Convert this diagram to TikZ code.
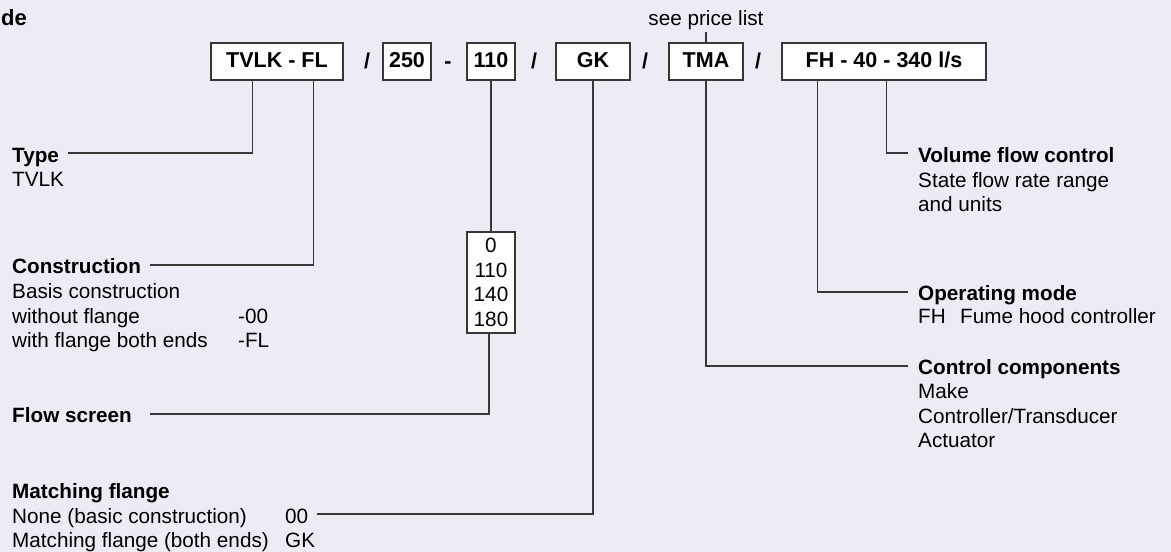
\documentclass[tikz,border=0pt]{standalone}
\usepackage{fontspec}
\setmainfont{Liberation Sans}
\definecolor{bg}{RGB}{237,236,245}
\definecolor{ln}{RGB}{55,55,55}
\tikzset{
  fs/.style={font=\fontsize{20.7pt}{24.5pt}\selectfont},
  txt/.style={fs, inner sep=0pt, anchor=base west},
  btxt/.style={txt, font=\fontsize{20.7pt}{24.5pt}\selectfont\bfseries},
  ctxt/.style={fs, inner sep=0pt, anchor=base},
  sep/.style={ctxt, font=\fontsize{21.5pt}{24.5pt}\selectfont\bfseries},
  codebox/.style={draw=ln, line width=1.2pt, fill=white, inner sep=0pt,
    minimum height=37pt, text height=15.5pt, text depth=3pt,
    font=\fontsize{21.5pt}{24.5pt}\selectfont\bfseries},
  conn/.style={draw=ln, line width=1.2pt}
}
\begin{document}
\begin{tikzpicture}[x=1pt,y=-1pt]
\useasboundingbox (0,0) rectangle (1171,552);
\fill[bg] (0,0) rectangle (1171,552);

% top code boxes
\node[codebox, minimum width=132pt] (tvlk) at (277,61.5) {TVLK - FL};
\node[codebox, minimum width=48pt]  (b250) at (407,61.5) {250};
\node[codebox, minimum width=48pt]  (b110) at (491,61.5) {110};
\node[codebox, minimum width=74pt]  (gk)   at (593,61.5) {GK};
\node[codebox, minimum width=74pt]  (tma)  at (706,61.5) {TMA};
\node[codebox, minimum width=204pt] (fh)   at (884,61.5) {FH - 40 - 340 l/s};

\node[sep] (s1) at (367,68) {/};
\node[sep] (s2) at (448,68) {-};
\node[sep] (s3) at (534,68) {/};
\node[sep] (s4) at (645,68) {/};
\node[sep] (s5) at (758,68) {/};

\node[btxt, font=\fontsize{22pt}{24.5pt}\selectfont\bfseries] (title) at (1,25) {de};
\node[ctxt] (see) at (706,25) {see price list};

% flow screen box
\node[draw=ln, line width=1.2pt, fill=white, inner sep=0pt, minimum width=48pt,
      minimum height=101pt, align=center, fs] (flowbox) at (491,282.5)
      {0\\110\\140\\180};

% left labels
\node[btxt] (typeh) at (12,162) {Type};
\node[txt]  (type1) at (12,186) {TVLK};

\node[btxt] (consh) at (12,273) {Construction};
\node[txt]  (cons1) at (12,298) {Basis construction};
\node[txt]  (cons2) at (12,323) {without flange};
\node[txt]  (cons2c) at (238,323) {-00};
\node[txt]  (cons3) at (12,347) {with flange both ends};
\node[txt]  (cons3c) at (238,347) {-FL};

\node[btxt] (flowh) at (12,422) {Flow screen};

\node[btxt] (flgh) at (12,498) {Matching flange};
\node[txt]  (flg1) at (12,523) {None (basic construction)};
\node[txt]  (flg1c) at (285,523) {00};
\node[txt]  (flg2) at (12,547) {Matching flange (both ends)};
\node[txt]  (flg2c) at (285,547) {GK};

% right labels
\node[btxt] (volh) at (918,162) {Volume flow control};
\node[txt]  (vol1) at (918,187) {State flow rate range};
\node[txt]  (vol2) at (918,211) {and units};

\node[btxt] (modeh) at (918,300) {Operating mode};
\node[txt]  (mode1) at (918,323) {FH};
\node[txt]  (mode1b) at (960,323) {Fume hood controller};

\node[btxt] (ctrlh) at (918,374) {Control components};
\node[txt]  (ctrl1) at (918,398) {Make};
\node[txt]  (ctrl2) at (918,423) {Controller/Transducer};
\node[txt]  (ctrl3) at (918,447) {Actuator};

% connector ends
\coordinate (typeend)  at (68,153);
\coordinate (consend)  at (150,265);
\coordinate (flowend)  at (150,414);
\coordinate (flgend)   at (317,514);
\coordinate (ctrlend)  at (908,366);
\coordinate (modeend)  at (908,292);
\coordinate (volend)   at (908,153);

% connectors
\draw[conn] (tvlk.south west) ++(42,0) |- (typeend);
\draw[conn] (tvlk.south east) ++(-30,0) |- (consend);
\draw[conn] (b110.south) -- (flowbox.north);
\draw[conn] (flowbox.south) ++(-2,0) |- (flowend);
\draw[conn] (gk.south) |- (flgend);
\draw[conn] (tma.south) |- (ctrlend);
\draw[conn] (tma.north) -- ([yshift=-2.5pt]see.south);
\draw[conn] (fh.south west) ++(36,0) |- (modeend);
\draw[conn] (fh.south west) ++(105,0) |- (volend);
\end{tikzpicture}
\end{document}
